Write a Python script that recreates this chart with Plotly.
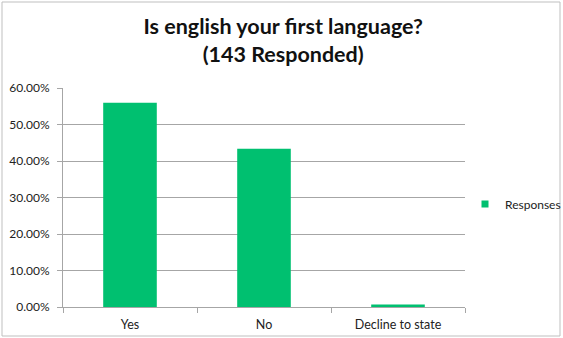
import plotly.graph_objects as go

categories = ["Yes", "No", "Decline to state"]
values = [0.5594, 0.4336, 0.0070]
series_name = "Responses"
y_ticks = [0, 0.1, 0.2, 0.3, 0.4, 0.5, 0.6]

GREEN = "#00C070"
fig = go.Figure()
fig.add_trace(go.Bar(x=categories, y=values, name=series_name,
                     marker=dict(color=GREEN, line=dict(width=0)),
                     width=0.4, showlegend=False))
# legend entry with small square
fig.add_trace(go.Scatter(x=[None], y=[None], mode="markers", name=series_name,
                         marker=dict(symbol="square", size=7, color=GREEN),
                         showlegend=True))

fig.update_layout(
    width=563, height=338,
    margin=dict(l=63, r=98, t=88, b=31, autoexpand=False),
    paper_bgcolor="white", plot_bgcolor="white",
    font=dict(family="Lato, Open Sans, sans-serif", color="#222", size=12),
    title=dict(text="<b>Is english your first language?<br>(143 Responded)</b>",
               x=0.503, xanchor="center", y=0.898, yanchor="middle",
               font=dict(size=21.5, color="#111", family="Lato, Open Sans, sans-serif")),
    showlegend=True,
    legend=dict(x=1.0, y=0.47, xanchor="left", yanchor="middle",
                font=dict(size=12), itemwidth=30, bgcolor="rgba(0,0,0,0)"),
)
fig.update_yaxes(range=[0, 0.6], tickvals=y_ticks, tickformat=".2%",
                 showgrid=True, gridcolor="#A6A6A6", gridwidth=1,
                 showline=True, linecolor="#A6A6A6", ticks="outside",
                 ticklen=5, tickcolor="#A6A6A6", zeroline=False,
                 tickfont=dict(size=12), ticklabelstandoff=5)
fig.update_xaxes(showline=True, linecolor="#A6A6A6", ticks="outside",
                 tickson="boundaries", ticklen=5, tickcolor="#A6A6A6",
                 tickfont=dict(size=12.5), ticklabelstandoff=6)
fig.add_shape(type="rect", xref="paper", yref="paper",
              x0=(2-63)/402, x1=(560-63)/402, y0=(307-336)/219, y1=(307-2)/219,
              line=dict(color="#BFBFBF", width=1), layer="below")
fig.write_html("out.html")
